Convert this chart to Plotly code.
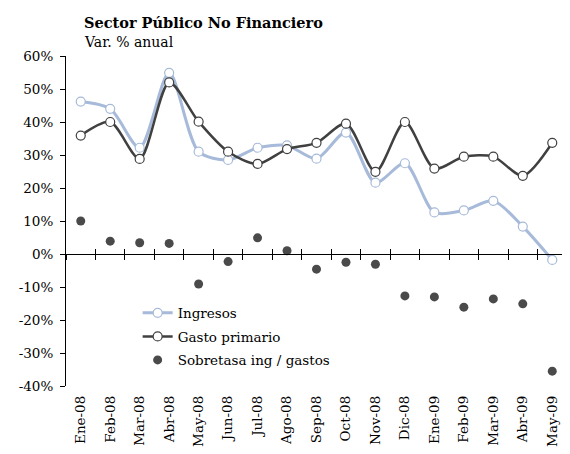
import plotly.graph_objects as go

months = ["Ene-08", "Feb-08", "Mar-08", "Abr-08", "May-08", "Jun-08", "Jul-08", "Ago-08",
          "Sep-08", "Oct-08", "Nov-08", "Dic-08", "Ene-09", "Feb-09", "Mar-09", "Abr-09", "May-09"]
ingresos = [46.2, 44.0, 32.2, 54.9, 31.0, 28.5, 32.2, 32.9, 28.9, 36.8, 21.6, 27.5, 12.6, 13.2, 16.1, 8.3, -1.8]
gasto = [35.9, 40.0, 28.8, 52.0, 40.1, 31.0, 27.3, 31.8, 33.7, 39.5, 24.9, 40.0, 25.9, 29.5, 29.5, 23.7, 33.7]
sobretasa = [10.0, 3.9, 3.4, 3.2, -9.1, -2.3, 4.9, 1.0, -4.6, -2.5, -3.1, -12.7, -13.0, -16.1, -13.6, -15.1, -35.5]
yticks = [60, 50, 40, 30, 20, 10, 0, -10, -20, -30, -40]

BLUE = "#a7bad9"
DARK = "#404040"
FONT = "DejaVu Serif"

fig = go.Figure()
fig.add_trace(go.Scatter(
    x=months, y=ingresos, name="Ingresos", mode="lines+markers", legendgroup="a",
    line=dict(color=BLUE, width=3, shape="spline", smoothing=0.8),
    marker=dict(size=9, color="white", line=dict(color=BLUE, width=1.2)),
))
fig.add_trace(go.Scatter(
    x=months, y=gasto, name="Gasto primario", mode="lines+markers", legendgroup="b",
    line=dict(color=DARK, width=2.5, shape="spline", smoothing=0.8),
    marker=dict(size=9, color="white", line=dict(color=DARK, width=1.2)),
))
fig.add_trace(go.Scatter(
    x=months, y=sobretasa, name="Sobretasa ing / gastos", mode="markers", legendgroup="c",
    marker=dict(size=9, color="#4a4a4a"),
))
# invisible traces for the zero-line axes
for ax in ["x2", "x3"]:
    fig.add_trace(go.Scatter(x=months, y=[None] * len(months), xaxis=ax, showlegend=False,
                             hoverinfo="skip", mode="lines"))

cat_common = dict(type="category", categoryorder="array", categoryarray=months,
                  range=[-0.5, len(months) - 0.5], automargin=False)

fig.update_layout(
    width=562, height=446,
    margin=dict(l=58, r=3, t=48, b=68),
    paper_bgcolor="white", plot_bgcolor="white",
    font=dict(family=FONT, size=13.5, color="black"),
    showlegend=True,
    legend=dict(x=0.143, y=0.268, xanchor="left", yanchor="top", bgcolor="rgba(0,0,0,0)",
                font=dict(family=FONT, size=13.5), tracegroupgap=3, itemwidth=30),
    xaxis=dict(**cat_common, showline=False, ticks="", tickangle=-90, ticklabelstandoff=6,
               tickfont=dict(family=FONT, size=13.5), showgrid=False, zeroline=False),
    xaxis2=dict(**cat_common, overlaying="x", anchor="free", position=0.4, side="bottom",
                showline=True, linecolor="black", linewidth=1, ticks="outside", ticklen=5,
                tickcolor="black", tickson="boundaries", showticklabels=False, showgrid=False),
    xaxis3=dict(**cat_common, overlaying="x", anchor="free", position=0.4, side="bottom",
                showline=False, ticks="inside", ticklen=5, tickcolor="black",
                tickson="boundaries", showticklabels=False, showgrid=False),
    yaxis=dict(range=[-40, 60], tickvals=yticks, ticktext=[f"{v}%" for v in yticks],
               showline=True, linecolor="black", linewidth=1, ticks="outside", ticklen=5,
               tickcolor="black", showgrid=False, zeroline=False, automargin=False,
               ticklabelstandoff=4, tickfont=dict(family=FONT, size=13.5)),
)
fig.add_annotation(text="<b>Sector Público No Financiero</b>", xref="paper", yref="paper",
                   x=(82 - 66) / 501, y=1 + (56 - 22) / 330, xanchor="left", yanchor="middle",
                   showarrow=False, font=dict(family=FONT, size=14.5))
fig.add_annotation(text="Var. % anual", xref="paper", yref="paper",
                   x=(82 - 66) / 501, y=1 + (56 - 42) / 330, xanchor="left", yanchor="middle",
                   showarrow=False, font=dict(family=FONT, size=14))

fig.write_html("out.html")
